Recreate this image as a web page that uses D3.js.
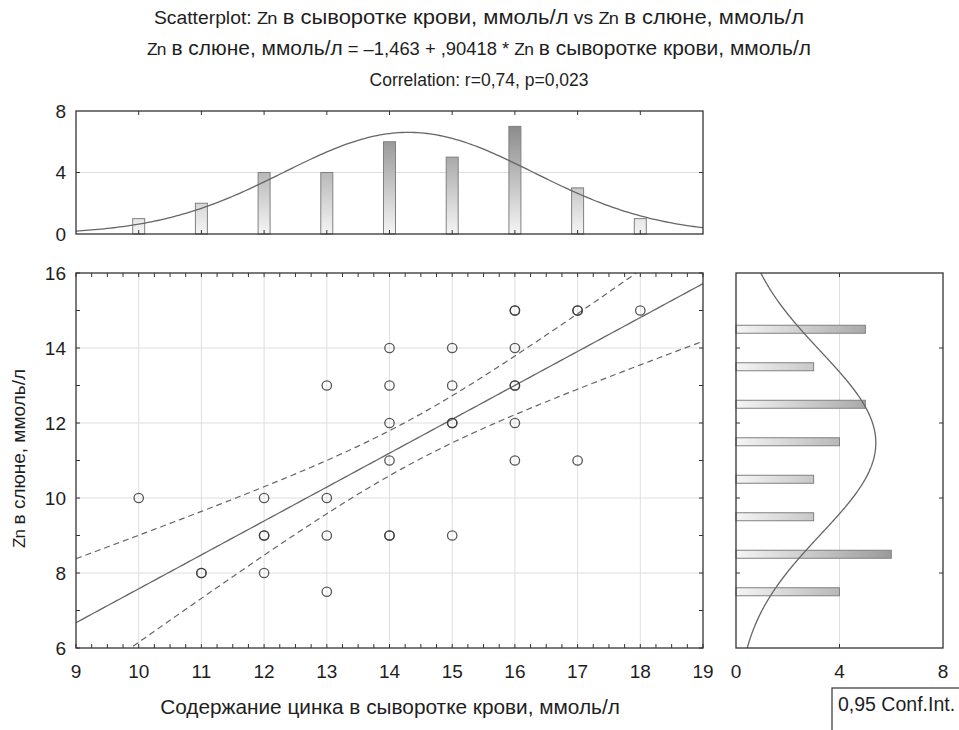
<!DOCTYPE html>
<html>
<head>
<meta charset="utf-8">
<script src="https://cdn.jsdelivr.net/npm/d3@7"></script>
<style>
  html, body { margin: 0; padding: 0; background: #fff; }
  svg { display: block; font-family: "Liberation Sans", Arial, sans-serif; }
</style>
</head>
<body>
<svg id="chart" width="959" height="730"></svg>
<script>
// Zn in blood serum (x) and in saliva (y), mmol/l — one entry per patient
const serumZn = [10, 11, 11, 12, 12, 12, 12, 13, 13, 13, 13,
                 14, 14, 14, 14, 14, 14, 15, 15, 15, 15, 15,
                 16, 16, 16, 16, 16, 16, 16, 17, 17, 17, 18];
const salivaZn = [10, 8, 8, 10, 9, 9, 8, 13, 10, 9, 7.5,
                  14, 13, 12, 11, 9, 9, 14, 13, 12, 12, 9,
                  15, 15, 14, 13, 13, 12, 11, 15, 15, 11, 15];

// Fitted regression and correlation
const intercept = -1.463;
const slope = 0.90418;
const corrR = "0,74";
const corrP = "0,023";
const tCrit = 2.04; // t(0.975, n-2)

// Axis ticks
const xTicks = d3.range(9, 20);
const yTicks = [6, 8, 10, 12, 14, 16];
const countTicks = [0, 4, 8];

const svg = d3.select("#chart");
const LATIN_FS = 18;
const CYR_FS = 20.5;
const ZN_FS = 17;
const TICK_FS = 19;
const LABEL_FS = 20.8;
const ink = "#333";
const textColor = "#1e1e1e";
const curveColor = "#666";
const gridColor = "#dedede";

// Panel geometry
const mainBox = { l: 76, r: 703, t: 273, b: 648 };
const topBox = { t: 111, b: 234 };
const sideBox = { l: 736, r: 943 };

const x = d3.scaleLinear().domain([9, 19]).range([mainBox.l, mainBox.r]);
const y = d3.scaleLinear().domain([6, 16]).range([mainBox.b, mainBox.t]);
const yTop = d3.scaleLinear().domain([0, 8]).range([topBox.b, topBox.t]);
const xSide = d3.scaleLinear().domain([0, 8]).range([sideBox.l, sideBox.r]);

// Gradients for histogram bars
const defs = svg.append("defs");
const gv = defs.append("linearGradient").attr("id", "gradV")
  .attr("gradientUnits", "userSpaceOnUse")
  .attr("x1", 0).attr("x2", 0).attr("y1", yTop(0)).attr("y2", yTop(8));
gv.append("stop").attr("offset", 0).attr("stop-color", "#f5f5f5");
gv.append("stop").attr("offset", 1).attr("stop-color", "#7c7c7c");
const gh = defs.append("linearGradient").attr("id", "gradH")
  .attr("gradientUnits", "userSpaceOnUse")
  .attr("y1", 0).attr("y2", 0).attr("x1", xSide(0)).attr("x2", xSide(8));
gh.append("stop").attr("offset", 0).attr("stop-color", "#f5f5f5");
gh.append("stop").attr("offset", 1).attr("stop-color", "#7c7c7c");

defs.append("clipPath").attr("id", "clipMain").append("rect")
  .attr("x", mainBox.l).attr("y", mainBox.t).attr("width", mainBox.r - mainBox.l).attr("height", mainBox.b - mainBox.t);
defs.append("clipPath").attr("id", "clipTop").append("rect")
  .attr("x", mainBox.l).attr("y", topBox.t).attr("width", mainBox.r - mainBox.l).attr("height", topBox.b - topBox.t);
defs.append("clipPath").attr("id", "clipSide").append("rect")
  .attr("x", sideBox.l).attr("y", mainBox.t).attr("width", sideBox.r - sideBox.l).attr("height", mainBox.b - mainBox.t);

// ---------- Titles: [text, size] runs ----------
function richText(sel, parts) {
  parts.forEach(([txt, fs]) => {
    const s = sel.append("tspan").text(txt).attr("font-size", fs);
    if (txt === "Zn") s.attr("letter-spacing", -0.8);
  });
  return sel;
}
function titleLine(yPos, parts, width) {
  const t = svg.append("text").attr("x", 479).attr("y", yPos)
    .attr("text-anchor", "middle").attr("fill", textColor);
  if (width) t.attr("textLength", width).attr("lengthAdjust", "spacingAndGlyphs");
  richText(t, parts);
}
titleLine(24, [["Scatterplot: ", LATIN_FS], ["Zn", ZN_FS], [" в сыворотке крови, ммоль/л", CYR_FS],
               [" vs  ", LATIN_FS], ["Zn", ZN_FS], [" в слюне, ммоль/л", CYR_FS]], 650);
titleLine(55, [["Zn", ZN_FS], [" в слюне, ммоль/л", CYR_FS], [" = –1,463 + ,90418 *  ", LATIN_FS],
               ["Zn", ZN_FS], [" в сыворотке крови, ммоль/л", CYR_FS]], 664);
titleLine(86, [[`Correlation: r=${corrR}, p=${corrP}`, 17.5]]);

// ---------- Tick helper ----------
function ticksAlong(g, vals, pos, orient, len) {
  vals.forEach(v => {
    const p = pos(v);
    const l = g.append("line").attr("stroke", ink).attr("stroke-width", 1);
    if (orient.type === "h") l.attr("x1", p).attr("x2", p).attr("y1", orient.at).attr("y2", orient.at + orient.dir * len);
    else l.attr("y1", p).attr("y2", p).attr("x1", orient.at).attr("x2", orient.at + orient.dir * len);
  });
}

// ---------- Top histogram (serum Zn) ----------
const gTop = svg.append("g");
gTop.append("line").attr("x1", mainBox.l).attr("x2", mainBox.r)
  .attr("y1", yTop(4)).attr("y2", yTop(4)).attr("stroke", gridColor);

const serumCounts = Array.from(d3.rollup(serumZn, v => v.length, d => d), ([k, c]) => ({ k, c }));
gTop.selectAll("rect.bar").data(serumCounts).join("rect")
  .attr("class", "bar")
  .attr("x", d => x(d.k) - 6).attr("width", 12)
  .attr("y", d => yTop(d.c)).attr("height", d => yTop(0) - yTop(d.c))
  .attr("fill", "url(#gradV)").attr("stroke", "#808080").attr("stroke-width", 1);

// Normal curve fitted to a sample, scaled to counts per unit bin
function normalFit(arr) {
  const m = d3.mean(arr), s = d3.deviation(arr), n = arr.length;
  return v => n * Math.exp(-0.5 * ((v - m) / s) ** 2) / (s * Math.sqrt(2 * Math.PI));
}
const fx = normalFit(serumZn);
gTop.append("path").attr("clip-path", "url(#clipTop)")
  .datum(d3.range(9, 19.001, 0.05))
  .attr("d", d3.line().x(v => x(v)).y(v => yTop(fx(v))))
  .attr("fill", "none").attr("stroke", curveColor).attr("stroke-width", 1.3);

gTop.append("rect").attr("x", mainBox.l).attr("y", topBox.t)
  .attr("width", mainBox.r - mainBox.l).attr("height", topBox.b - topBox.t)
  .attr("fill", "none").attr("stroke", ink).attr("stroke-width", 1.3);
ticksAlong(gTop, d3.range(10, 19), x, { type: "h", at: topBox.t, dir: 1 }, 4);
ticksAlong(gTop, d3.range(10, 19), x, { type: "h", at: topBox.b, dir: -1 }, 4);
ticksAlong(gTop, [4], yTop, { type: "v", at: mainBox.l, dir: 1 }, 4);
ticksAlong(gTop, [4], yTop, { type: "v", at: mainBox.r, dir: -1 }, 4);
gTop.selectAll("text.yl").data(countTicks).join("text")
  .attr("x", 66).attr("y", d => yTop(d)).attr("dy", "0.36em")
  .attr("text-anchor", "end").attr("font-size", TICK_FS).attr("fill", textColor).text(d => d);

// ---------- Main scatter ----------
const gMain = svg.append("g");
gMain.selectAll("line.gx").data(d3.range(10, 19)).join("line")
  .attr("x1", d => x(d)).attr("x2", d => x(d)).attr("y1", mainBox.t).attr("y2", mainBox.b)
  .attr("stroke", gridColor);
gMain.selectAll("line.gy").data([8, 10, 12, 14]).join("line")
  .attr("y1", d => y(d)).attr("y2", d => y(d)).attr("x1", mainBox.l).attr("x2", mainBox.r)
  .attr("stroke", gridColor);

// Regression line and 95% confidence band of the mean
const n = serumZn.length;
const xbar = d3.mean(serumZn);
const sxx = d3.sum(serumZn, v => (v - xbar) ** 2);
const sse = d3.sum(serumZn, (v, i) => (salivaZn[i] - (intercept + slope * v)) ** 2);
const sRes = Math.sqrt(sse / (n - 2));
const xs = d3.range(9, 19.001, 0.05);
const half = v => tCrit * sRes * Math.sqrt(1 / n + (v - xbar) ** 2 / sxx);

const clipG = gMain.append("g").attr("clip-path", "url(#clipMain)");
clipG.append("path").datum(xs)
  .attr("d", d3.line().x(v => x(v)).y(v => y(intercept + slope * v)))
  .attr("fill", "none").attr("stroke", curveColor).attr("stroke-width", 1.3);
[1, -1].forEach(sign => {
  clipG.append("path").datum(xs)
    .attr("d", d3.line().x(v => x(v)).y(v => y(intercept + slope * v + sign * half(v))))
    .attr("fill", "none").attr("stroke", curveColor).attr("stroke-width", 1.2)
    .attr("stroke-dasharray", "6,4");
});

// Points
clipG.selectAll("circle").data(serumZn.map((v, i) => [v, salivaZn[i]])).join("circle")
  .attr("cx", d => x(d[0])).attr("cy", d => y(d[1])).attr("r", 4.7)
  .attr("fill", "none").attr("stroke", "#3a3a3a").attr("stroke-opacity", 0.85).attr("stroke-width", 1.3);

gMain.append("rect").attr("x", mainBox.l).attr("y", mainBox.t)
  .attr("width", mainBox.r - mainBox.l).attr("height", mainBox.b - mainBox.t)
  .attr("fill", "none").attr("stroke", ink).attr("stroke-width", 1.3);

const xMinor = d3.range(9, 19.001, 0.25);
ticksAlong(gMain, xMinor, x, { type: "h", at: mainBox.b, dir: -1 }, 4);
ticksAlong(gMain, xMinor, x, { type: "h", at: mainBox.t, dir: 1 }, 4);
const yMinor = d3.range(6, 16.001, 1);
ticksAlong(gMain, yMinor, y, { type: "v", at: mainBox.l, dir: 1 }, 4);
ticksAlong(gMain, yMinor, y, { type: "v", at: mainBox.r, dir: -1 }, 4);

gMain.selectAll("text.xl").data(xTicks).join("text")
  .attr("x", d => x(d)).attr("y", 678).attr("text-anchor", "middle")
  .attr("font-size", TICK_FS).attr("fill", textColor).text(d => d);
gMain.selectAll("text.yl").data(yTicks).join("text")
  .attr("x", 66).attr("y", d => y(d)).attr("dy", "0.36em").attr("text-anchor", "end")
  .attr("font-size", TICK_FS).attr("fill", textColor).text(d => d);

svg.append("text").attr("x", 390).attr("y", 714).attr("text-anchor", "middle")
  .attr("font-size", LABEL_FS).attr("fill", textColor)
  .text("Содержание цинка в сыворотке крови, ммоль/л");
const yTitle = svg.append("text")
  .attr("transform", `translate(25, ${(mainBox.t + mainBox.b) / 2 - 2}) rotate(-90)`)
  .attr("text-anchor", "middle").attr("fill", textColor);
richText(yTitle, [["Zn", ZN_FS], [" в слюне, ммоль/л", 19]]);

// ---------- Side histogram (saliva Zn) ----------
const gSide = svg.append("g");
gSide.append("line").attr("x1", xSide(4)).attr("x2", xSide(4))
  .attr("y1", mainBox.t).attr("y2", mainBox.b).attr("stroke", gridColor);

const salivaCounts = Array.from(d3.rollup(salivaZn, v => v.length, d => Math.ceil(d) - 0.5), ([k, c]) => ({ k, c }));
gSide.selectAll("rect.bar").data(salivaCounts).join("rect")
  .attr("class", "bar")
  .attr("x", xSide(0)).attr("width", d => xSide(d.c) - xSide(0))
  .attr("y", d => y(d.k) - 4).attr("height", 8)
  .attr("fill", "url(#gradH)").attr("stroke", "#808080").attr("stroke-width", 1);

const fy = normalFit(salivaZn);
gSide.append("path").attr("clip-path", "url(#clipSide)")
  .datum(d3.range(6, 16.001, 0.05))
  .attr("d", d3.line().x(v => xSide(fy(v))).y(v => y(v)))
  .attr("fill", "none").attr("stroke", curveColor).attr("stroke-width", 1.3);

gSide.append("rect").attr("x", sideBox.l).attr("y", mainBox.t)
  .attr("width", sideBox.r - sideBox.l).attr("height", mainBox.b - mainBox.t)
  .attr("fill", "none").attr("stroke", ink).attr("stroke-width", 1.3);
ticksAlong(gSide, [8, 10, 12, 14], y, { type: "v", at: sideBox.l, dir: 1 }, 4);
ticksAlong(gSide, [8, 10, 12, 14], y, { type: "v", at: sideBox.r, dir: -1 }, 4);
ticksAlong(gSide, [4], xSide, { type: "h", at: mainBox.b, dir: -1 }, 4);
ticksAlong(gSide, [4], xSide, { type: "h", at: mainBox.t, dir: 1 }, 4);
gSide.selectAll("text.xl").data(countTicks).join("text")
  .attr("x", d => xSide(d)).attr("y", 678).attr("text-anchor", "middle")
  .attr("font-size", TICK_FS).attr("fill", textColor).text(d => d);

// ---------- Legend ----------
svg.append("rect").attr("x", 832).attr("y", 688).attr("width", 140).attr("height", 60)
  .attr("fill", "#fff").attr("stroke", ink).attr("stroke-width", 1.2);
svg.append("text").attr("x", 838).attr("y", 711).attr("font-size", 19.5).attr("fill", textColor)
  .text("0,95 Conf.Int.");
</script>
</body>
</html>
